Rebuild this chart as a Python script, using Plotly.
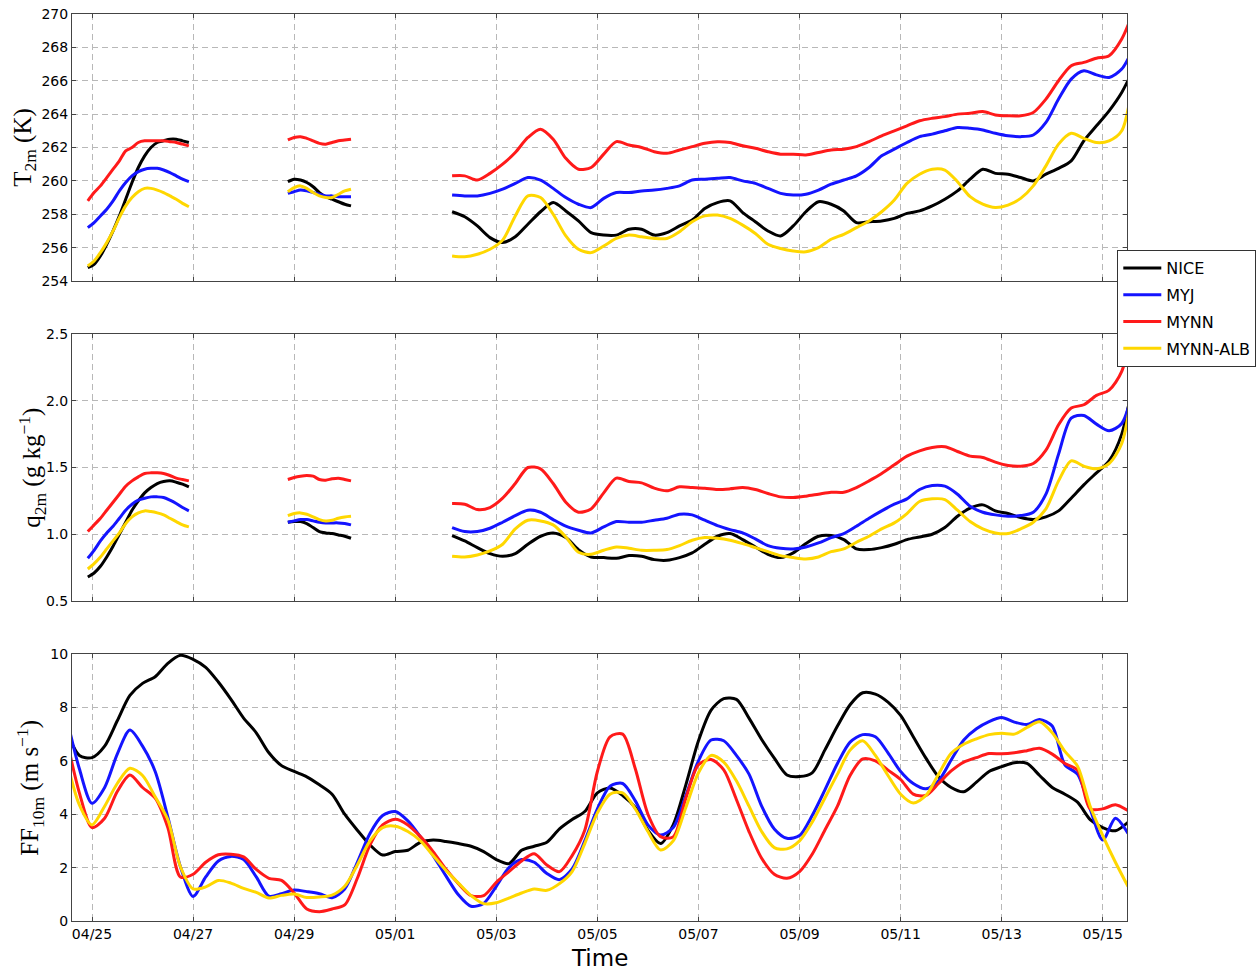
import pandas as pd
import plotly.graph_objects as go
from plotly.subplots import make_subplots

# ---------------------------------------------------------------------------
# Time axes of the series
# ---------------------------------------------------------------------------
t_seg1 = pd.date_range("2015-04-24 22:00", periods=17, freq="3h")
t_seg2 = pd.date_range("2015-04-28 21:00", periods=11, freq="3h")
t_seg3 = pd.date_range("2015-05-02 03:00", periods=55, freq="6h")
t_ff = pd.date_range("2015-04-24 12:00", periods=85, freq="6h")

models = ["NICE", "MYJ", "MYNN", "MYNN-ALB"]
colors = ["#000000", "#1414ff", "#ff1a1a", "#ffd700"]

# ---------------------------------------------------------------------------
# 2 m temperature (K)
# ---------------------------------------------------------------------------
T1_NICE = [254.8, 255.0, 255.5, 256.2, 257.0, 257.9, 258.9, 259.9, 260.8, 261.5,
           262.0, 262.3, 262.4, 262.5, 262.5, 262.4, 262.3]
T1_MYJ = [257.2, 257.5, 257.9, 258.3, 258.8, 259.4, 259.9, 260.3, 260.55, 260.7,
          260.75, 260.75, 260.65, 260.5, 260.3, 260.1, 259.95]
T1_MYNN = [258.8, 259.3, 259.7, 260.2, 260.7, 261.2, 261.8, 262.0, 262.3, 262.4,
           262.4, 262.4, 262.4, 262.35, 262.3, 262.2, 262.1]
T1_ALB = [254.9, 255.2, 255.7, 256.3, 257.0, 257.8, 258.5, 259.0, 259.35, 259.55,
          259.55, 259.45, 259.3, 259.1, 258.9, 258.65, 258.45]

T2_NICE = [259.95, 260.1, 260.05, 259.9, 259.65, 259.3, 259.05, 258.9, 258.75, 258.6, 258.5]
T2_MYJ = [259.25, 259.35, 259.45, 259.4, 259.3, 259.2, 259.1, 259.1, 259.05, 259.05, 259.05]
T2_MYNN = [262.45, 262.6, 262.65, 262.55, 262.4, 262.25, 262.2, 262.3, 262.4, 262.45, 262.5]
T2_ALB = [259.35, 259.6, 259.7, 259.55, 259.3, 259.1, 259.0, 259.0, 259.2, 259.4, 259.5]

T3_NICE = [258.15, 257.85, 257.3, 256.6, 256.3, 256.65, 257.4, 258.15, 258.7, 258.2,
           257.6, 256.9, 256.75, 256.75, 257.1, 257.1, 256.75, 256.9, 257.3, 257.65,
           258.35, 258.7, 258.8, 258.1, 257.55, 257.0, 256.7, 257.3, 258.15, 258.75,
           258.6, 258.2, 257.5, 257.55, 257.6, 257.75, 258.05, 258.2, 258.5, 258.9,
           259.4, 260.1, 260.7, 260.45, 260.4, 260.2, 260.0, 260.4, 260.75, 261.2,
           262.4, 263.3, 264.2, 265.3, 266.8]
T3_MYJ = [259.15, 259.1, 259.1, 259.25, 259.5, 259.85, 260.2, 260.05, 259.55, 259.0,
          258.6, 258.4, 258.95, 259.3, 259.3, 259.4, 259.45, 259.55, 259.7, 260.05,
          260.1, 260.15, 260.2, 260.0, 259.85, 259.55, 259.25, 259.15, 259.2, 259.45,
          259.8, 260.05, 260.3, 260.8, 261.5, 261.9, 262.3, 262.65, 262.8, 263.0,
          263.2, 263.15, 263.05, 262.85, 262.7, 262.65, 262.75, 263.5, 264.9, 266.1,
          266.6, 266.35, 266.2, 266.7, 268.1]
T3_MYNN = [260.3, 260.3, 260.05, 260.45, 261.0, 261.7, 262.6, 263.1, 262.5, 261.35,
           260.7, 260.8, 261.6, 262.35, 262.15, 262.0, 261.75, 261.65, 261.85, 262.05,
           262.25, 262.35, 262.3, 262.1, 261.95, 261.75, 261.6, 261.6, 261.55, 261.7,
           261.85, 261.9, 262.05, 262.35, 262.7, 263.0, 263.3, 263.6, 263.75, 263.85,
           264.0, 264.05, 264.15, 263.95, 263.9, 263.9, 264.1, 264.9, 266.0, 266.9,
           267.1, 267.35, 267.5, 268.5, 270.3]
T3_ALB = [255.5, 255.45, 255.6, 255.9, 256.45, 257.9, 259.1, 259.0, 258.0, 256.7,
          255.9, 255.7, 256.1, 256.55, 256.75, 256.65, 256.55, 256.55, 256.95, 257.55,
          257.9, 257.95, 257.75, 257.35, 256.85, 256.2, 255.95, 255.8, 255.75, 256.0,
          256.5, 256.8, 257.2, 257.6, 258.15, 258.85, 259.85, 260.4, 260.7, 260.65,
          259.95, 259.05, 258.6, 258.4, 258.55, 258.95, 259.7, 260.9, 262.2, 262.85,
          262.55, 262.3, 262.4, 263.0, 266.6]

# ---------------------------------------------------------------------------
# 2 m specific humidity (g/kg)
# ---------------------------------------------------------------------------
Q1_NICE = [0.68, 0.71, 0.76, 0.83, 0.91, 1.00, 1.09, 1.18, 1.25, 1.31,
           1.35, 1.38, 1.395, 1.40, 1.39, 1.375, 1.355]
Q1_MYJ = [0.82, 0.88, 0.95, 1.01, 1.06, 1.12, 1.18, 1.225, 1.255, 1.27,
          1.28, 1.28, 1.275, 1.255, 1.23, 1.20, 1.175]
Q1_MYNN = [1.02, 1.07, 1.12, 1.18, 1.24, 1.30, 1.36, 1.40, 1.43, 1.455,
           1.46, 1.46, 1.455, 1.44, 1.42, 1.41, 1.40]
Q1_ALB = [0.74, 0.78, 0.83, 0.89, 0.95, 1.01, 1.08, 1.13, 1.16, 1.175,
          1.17, 1.16, 1.145, 1.12, 1.095, 1.07, 1.055]

Q2_NICE = [1.09, 1.095, 1.095, 1.08, 1.05, 1.02, 1.01, 1.005, 0.995, 0.985, 0.97]
Q2_MYJ = [1.09, 1.10, 1.11, 1.11, 1.10, 1.09, 1.085, 1.085, 1.085, 1.08, 1.07]
Q2_MYNN = [1.41, 1.425, 1.435, 1.44, 1.435, 1.41, 1.405, 1.415, 1.42, 1.41, 1.40]
Q2_ALB = [1.14, 1.155, 1.16, 1.15, 1.13, 1.11, 1.10, 1.105, 1.12, 1.13, 1.135]

Q3_NICE = [0.99, 0.95, 0.90, 0.855, 0.835, 0.855, 0.925, 0.985, 1.01, 0.975,
           0.885, 0.83, 0.825, 0.82, 0.84, 0.835, 0.81, 0.805, 0.825, 0.86,
           0.925, 0.985, 1.005, 0.96, 0.905, 0.85, 0.825, 0.86, 0.93, 0.985,
           0.99, 0.96, 0.89, 0.885, 0.90, 0.925, 0.96, 0.98, 1.0, 1.05,
           1.135, 1.195, 1.22, 1.175, 1.155, 1.125, 1.11, 1.13, 1.175, 1.27,
           1.37, 1.46, 1.55, 1.75, 2.2]
Q3_MYJ = [1.05, 1.02, 1.02, 1.045, 1.09, 1.14, 1.18, 1.165, 1.11, 1.06,
          1.03, 1.01, 1.055, 1.095, 1.09, 1.09, 1.105, 1.12, 1.15, 1.145,
          1.105, 1.065, 1.035, 1.01, 0.965, 0.915, 0.895, 0.89, 0.905, 0.935,
          0.975, 1.005, 1.06, 1.12, 1.175, 1.225, 1.265, 1.335, 1.365, 1.36,
          1.30, 1.21, 1.165, 1.145, 1.135, 1.14, 1.165, 1.30, 1.60, 1.87,
          1.89, 1.825, 1.775, 1.83, 2.12]
Q3_MYNN = [1.23, 1.225, 1.185, 1.20, 1.27, 1.38, 1.50, 1.49, 1.38, 1.24,
           1.165, 1.19, 1.31, 1.42, 1.395, 1.385, 1.345, 1.325, 1.355, 1.35,
           1.345, 1.335, 1.34, 1.35, 1.335, 1.305, 1.28, 1.275, 1.285, 1.30,
           1.315, 1.315, 1.35, 1.40, 1.455, 1.52, 1.585, 1.625, 1.65, 1.655,
           1.62, 1.585, 1.575, 1.54, 1.515, 1.51, 1.53, 1.63, 1.82, 1.945,
           1.97, 2.04, 2.08, 2.22, 2.65]
Q3_ALB = [0.835, 0.83, 0.845, 0.875, 0.925, 1.04, 1.105, 1.10, 1.07, 0.98,
          0.865, 0.85, 0.88, 0.905, 0.895, 0.88, 0.88, 0.885, 0.915, 0.955,
          0.975, 0.97, 0.955, 0.93, 0.90, 0.87, 0.84, 0.825, 0.815, 0.83,
          0.87, 0.89, 0.94, 0.985, 1.04, 1.085, 1.155, 1.245, 1.265, 1.26,
          1.18, 1.095, 1.04, 1.01, 1.005, 1.04, 1.09, 1.19, 1.40, 1.55,
          1.51, 1.49, 1.53, 1.68, 2.2]

# ---------------------------------------------------------------------------
# 10 m wind speed (m/s)
# ---------------------------------------------------------------------------
FF_NICE = [7.1, 6.2, 6.12, 6.55, 7.5, 8.45, 8.9, 9.15, 9.65, 9.95,
           9.8, 9.5, 8.95, 8.3, 7.6, 7.05, 6.3, 5.82, 5.6, 5.4,
           5.1, 4.75, 4.0, 3.4, 2.85, 2.47, 2.6, 2.65, 2.95, 3.03,
           2.98, 2.9, 2.8, 2.6, 2.3, 2.15, 2.65, 2.8, 2.95, 3.45,
           3.8, 4.1, 4.8, 4.98, 4.7, 4.25, 3.4, 2.9, 3.6, 5.1,
           6.75, 7.9, 8.33, 8.3, 7.6, 6.8, 6.1, 5.47, 5.41, 5.55,
           6.4, 7.3, 8.1, 8.55, 8.5, 8.2, 7.7, 6.9, 6.1, 5.4,
           5.0, 4.84, 5.2, 5.6, 5.78, 5.93, 5.9, 5.45, 5.0, 4.75,
           4.45, 3.8, 3.5, 3.38, 3.7]
FF_MYJ = [7.6, 5.7, 4.41, 5.0, 6.25, 7.15, 6.55, 5.6, 3.9, 2.03,
          0.92, 1.65, 2.25, 2.42, 2.3, 1.65, 0.93, 1.02, 1.16, 1.1,
          1.02, 0.87, 1.2, 2.2, 3.28, 3.95, 4.1, 3.75, 3.15, 2.45,
          1.7, 0.98, 0.55, 0.66, 1.3, 2.0, 2.3, 2.2, 1.78, 1.55,
          1.95, 3.0, 4.2, 5.05, 5.15, 4.5, 3.6, 3.22, 3.5, 4.7,
          6.0, 6.78, 6.75, 6.2, 5.5, 4.3, 3.45, 3.1, 3.2, 3.95,
          4.9, 5.9, 6.7, 6.98, 6.9, 6.3, 5.6, 5.15, 4.95, 5.25,
          6.03, 6.78, 7.2, 7.47, 7.62, 7.45, 7.36, 7.55, 7.3, 5.85,
          5.5, 4.2, 3.03, 3.85, 3.28]
FF_MYNN = [6.8, 4.8, 3.5, 3.85, 4.85, 5.47, 5.0, 4.6, 3.5, 1.65,
           1.75, 2.2, 2.48, 2.5, 2.4, 1.93, 1.6, 1.52, 1.05, 0.45,
           0.35, 0.45, 0.6, 1.6, 2.85, 3.6, 3.81, 3.6, 3.16, 2.6,
           1.95, 1.4, 0.95, 0.95, 1.45, 1.85, 2.25, 2.52, 2.1, 1.85,
           2.45, 3.4, 5.6, 6.9, 7.0, 5.7, 4.0, 3.16, 3.15, 4.6,
           5.85, 6.05, 5.66, 4.55, 3.35, 2.35, 1.75, 1.6, 1.85, 2.5,
           3.4, 4.3, 5.45, 6.07, 6.0, 5.65, 5.3, 4.75, 4.7, 5.15,
           5.62, 5.95, 6.12, 6.27, 6.26, 6.3, 6.38, 6.47, 6.25, 5.9,
           5.65, 4.2, 4.2, 4.35, 4.13]
FF_ALB = [6.0, 4.35, 3.6, 4.3, 5.15, 5.72, 5.45, 4.65, 3.8, 2.03,
          1.2, 1.28, 1.52, 1.42, 1.22, 1.07, 0.86, 0.96, 1.01, 0.88,
          0.9, 0.97, 1.3, 2.1, 3.0, 3.5, 3.55, 3.35, 3.0, 2.45,
          1.9, 1.42, 0.95, 0.65, 0.68, 0.86, 1.05, 1.2, 1.15, 1.4,
          1.85, 2.9, 4.05, 4.75, 4.8, 4.2, 3.35, 2.66, 3.0, 4.25,
          5.55, 6.2, 5.95, 5.25, 4.3, 3.35, 2.75, 2.7, 3.0, 3.7,
          4.6, 5.5, 6.4, 6.75, 6.2, 5.45, 4.75, 4.42, 4.7, 5.5,
          6.28, 6.62, 6.82, 6.98, 7.03, 7.0, 7.25, 7.46, 7.05, 6.35,
          5.8, 4.3, 3.2, 2.2, 1.29]

T2M = {"NICE": (T1_NICE, T2_NICE, T3_NICE), "MYJ": (T1_MYJ, T2_MYJ, T3_MYJ),
       "MYNN": (T1_MYNN, T2_MYNN, T3_MYNN), "MYNN-ALB": (T1_ALB, T2_ALB, T3_ALB)}
Q2M = {"NICE": (Q1_NICE, Q2_NICE, Q3_NICE), "MYJ": (Q1_MYJ, Q2_MYJ, Q3_MYJ),
       "MYNN": (Q1_MYNN, Q2_MYNN, Q3_MYNN), "MYNN-ALB": (Q1_ALB, Q2_ALB, Q3_ALB)}
FF10 = {"NICE": FF_NICE, "MYJ": FF_MYJ, "MYNN": FF_MYNN, "MYNN-ALB": FF_ALB}


def join_segments(segs):
    """Concatenate the three observation periods, leaving gaps between them."""
    xs, ys = [], []
    for i, (t, v) in enumerate(zip((t_seg1, t_seg2, t_seg3), segs)):
        if i > 0:
            xs.append(t[0] - pd.Timedelta(hours=1))
            ys.append(None)
        xs.extend(list(t))
        ys.extend(v)
    return xs, ys


fig = make_subplots(rows=3, cols=1, shared_xaxes=True, vertical_spacing=53 / 907)

line_w = 3
for name, col in zip(models, colors):
    x, y = join_segments(T2M[name])
    fig.add_trace(go.Scatter(x=x, y=y, mode="lines", name=name, legendgroup=name,
                             line=dict(color=col, width=line_w, shape="spline", smoothing=0.8),
                             connectgaps=False, showlegend=True), row=1, col=1)
for name, col in zip(models, colors):
    x, y = join_segments(Q2M[name])
    fig.add_trace(go.Scatter(x=x, y=y, mode="lines", name=name, legendgroup=name,
                             line=dict(color=col, width=line_w, shape="spline", smoothing=0.8),
                             connectgaps=False, showlegend=False), row=2, col=1)
for name, col in zip(models, colors):
    fig.add_trace(go.Scatter(x=list(t_ff), y=FF10[name], mode="lines", name=name, legendgroup=name,
                             line=dict(color=col, width=line_w, shape="spline", smoothing=0.8),
                             showlegend=False), row=3, col=1)

axis_common = dict(showline=True, mirror="ticks", linecolor="#444444", linewidth=1,
                   ticks="inside", ticklen=4, tickcolor="#444444",
                   showgrid=True, gridcolor="#b8b8b8", griddash="6px,4px", gridwidth=1,
                   zeroline=False, automargin=False,
                   tickfont=dict(family="DejaVu Sans", size=14, color="#000000"))

x_range = ["2015-04-24 14:30", "2015-05-15 11:30"]
for r in (1, 2, 3):
    fig.update_xaxes(range=x_range, tick0="2015-04-25", dtick=2 * 86400000, tickformat="%m/%d",
                     **axis_common, row=r, col=1)
fig.update_xaxes(showticklabels=True, row=3, col=1)

fig.update_yaxes(range=[254, 270], dtick=2, **axis_common, row=1, col=1)
fig.update_yaxes(range=[0.5, 2.5], dtick=0.5, tickformat=".1f", **axis_common, row=2, col=1)
fig.update_yaxes(range=[0, 10], dtick=2, **axis_common, row=3, col=1)

title_font = dict(family="Liberation Serif", size=25, color="#000000")
ylabels = [
    ("T<sub>2m</sub> (K)", -0.0452, 0.8528),
    ("q<sub>2m</sub> (g kg<sup>\u22121</sup>)", -0.0386, 0.5),
    ("FF<sub>10m</sub> (m s<sup>\u22121</sup>)", -0.0395, 0.1472),
]
for text, xp, yp in ylabels:
    fig.add_annotation(text=text, xref="paper", yref="paper", x=xp, y=yp,
                       xanchor="center", yanchor="middle", textangle=-90,
                       showarrow=False, font=title_font)

fig.add_annotation(text="Time", xref="paper", yref="paper", x=0.5, y=-0.0408,
                   xanchor="center", yanchor="middle", showarrow=False,
                   font=dict(family="DejaVu Sans", size=23, color="#000000"))

fig.update_layout(
    width=1260, height=973,
    margin=dict(l=72, r=133, t=14, b=52, autoexpand=False),
    paper_bgcolor="#ffffff", plot_bgcolor="#ffffff",
    legend=dict(x=0.9908, y=0.7398, xanchor="left", yanchor="top",
                bgcolor="#ffffff", bordercolor="#333333", borderwidth=1,
                font=dict(family="DejaVu Sans", size=16, color="#000000"),
                tracegroupgap=3, itemwidth=38),
)

fig.write_html("out.html")
